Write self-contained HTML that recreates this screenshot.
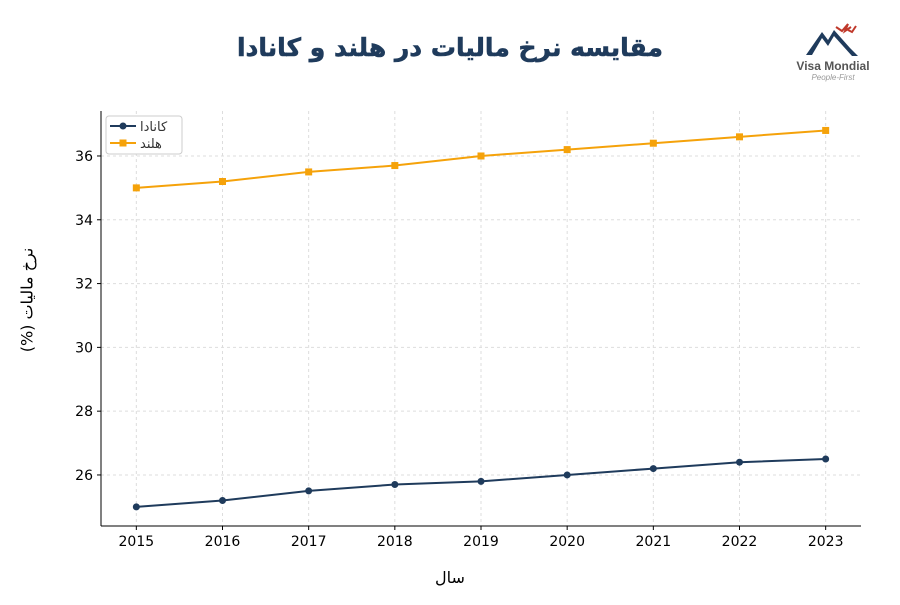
<!DOCTYPE html>
<html><head><meta charset="utf-8"><style>
body{margin:0;background:#fff;width:900px;height:600px;overflow:hidden;font-family:"Liberation Sans","DejaVu Sans",sans-serif;position:relative}
#ytitle{position:absolute;left:27px;top:300px;transform:translate(-50%,-50%) rotate(-90deg);font-family:"DejaVu Sans",sans-serif;font-size:16px;white-space:nowrap;direction:rtl}
</style></head><body>
<svg id="chart" width="900" height="600" xmlns="http://www.w3.org/2000/svg">
<text x="450" y="56" text-anchor="middle" font-size="25" font-weight="bold" fill="#1f3b5c" stroke="#1f3b5c" stroke-width="0.6" font-family="'DejaVu Sans',sans-serif" direction="rtl">مقایسه نرخ مالیات در هلند و کانادا</text>
<g>
<path d="M806 55 L822 32 L828 40 L834 30 L850 48 L858 56 L852 56 L834 36 L828 46 L822 38 L812 55 Z" fill="#1f3b5c"/>
<path d="M836 27 L842 31 L848 24 L845 31 L851 27 M848 30 L852 32 L856 26" stroke="#c0392b" stroke-width="2" fill="none"/>
<text x="833" y="70" text-anchor="middle" font-size="12" font-weight="bold" fill="#555">Visa Mondial</text>
<text x="833" y="80" text-anchor="middle" font-size="8" font-style="italic" fill="#999">People-First</text>
</g>
<g id="grid"></g>
<g id="axes"></g>
<g id="series"></g>
<text x="450" y="583" text-anchor="middle" font-size="16" fill="#000" font-family="'DejaVu Sans',sans-serif">سال</text>
<g>
<rect x="106" y="116" width="76" height="38" rx="3" fill="#fff" stroke="#ccc"/>
<g>
<line x1="110" y1="126" x2="136" y2="126" stroke="#1f3b5c" stroke-width="2"/><circle cx="123" cy="126" r="3.5" fill="#1f3b5c"/>
<text x="140" y="131" font-size="13" fill="#333" font-family="'DejaVu Sans',sans-serif">کانادا</text></g>
<g>
<line x1="110" y1="143" x2="136" y2="143" stroke="#f5a20a" stroke-width="2"/><rect x="119.5" y="139.5" width="7" height="7" fill="#f5a20a"/>
<text x="140" y="148" font-size="13" fill="#333" font-family="'DejaVu Sans',sans-serif">هلند</text></g>
</g>
</svg>
<div id="ytitle">نرخ مالیات (%)</div>
<script>
const years=[2015,2016,2017,2018,2019,2020,2021,2022,2023];
const canada=[25,25.2,25.5,25.7,25.8,26,26.2,26.4,26.5];
const netherlands=[35,35.2,35.5,35.7,36,36.2,36.4,36.6,36.8];
const yTicks=[26,28,30,32,34,36];
const NS="http://www.w3.org/2000/svg";
const L=101,R=861,T=111,B=526;
const xMin=2014.59,xMax=2023.41,yMin=24.4,yMax=37.41;
const xs=v=>L+(v-xMin)/(xMax-xMin)*(R-L);
const ys=v=>B-(v-yMin)/(yMax-yMin)*(B-T);
function mk(tag,attrs,parent){const e=document.createElementNS(NS,tag);for(const k in attrs)e.setAttribute(k,attrs[k]);parent.appendChild(e);return e;}
const grid=document.getElementById('grid'),axes=document.getElementById('axes'),ser=document.getElementById('series');
years.forEach(y=>{
const g=mk('line',{x1:xs(y),x2:xs(y),y1:T,y2:B,stroke:'#ddd','stroke-dasharray':'3,3'},grid);


mk('line',{x1:xs(y),x2:xs(y),y1:B,y2:B+4,stroke:'#000'},axes);
const t=mk('text',{x:xs(y),y:B+20,'text-anchor':'middle','font-size':14,'font-family':'DejaVu Sans, sans-serif'},axes);t.textContent=y;


});
yTicks.forEach(v=>{
const g=mk('line',{x1:L,x2:R,y1:ys(v),y2:ys(v),stroke:'#ddd','stroke-dasharray':'3,3'},grid);


mk('line',{x1:L-4,x2:L,y1:ys(v),y2:ys(v),stroke:'#000'},axes);
const t=mk('text',{x:L-8,y:ys(v)+5,'text-anchor':'end','font-size':14,'font-family':'DejaVu Sans, sans-serif'},axes);t.textContent=v;


});
mk('line',{x1:L,x2:L,y1:T,y2:B,stroke:'#000'},axes);
mk('line',{x1:L,x2:R,y1:B,y2:B,stroke:'#000'},axes);
function draw(data,color,marker,name){
const p=mk('polyline',{points:data.map((v,i)=>xs(years[i])+','+ys(v)).join(' '),fill:'none',stroke:color,'stroke-width':2},ser);


data.forEach((v,i)=>{let m;
if(marker==='circle')m=mk('circle',{cx:xs(years[i]),cy:ys(v),r:3.5,fill:color},ser);
else m=mk('rect',{x:xs(years[i])-3.5,y:ys(v)-3.5,width:7,height:7,fill:color},ser);


});
}
draw(canada,'#1f3b5c','circle','canada');
draw(netherlands,'#f5a20a','square','netherlands');
</script>
</body></html>
